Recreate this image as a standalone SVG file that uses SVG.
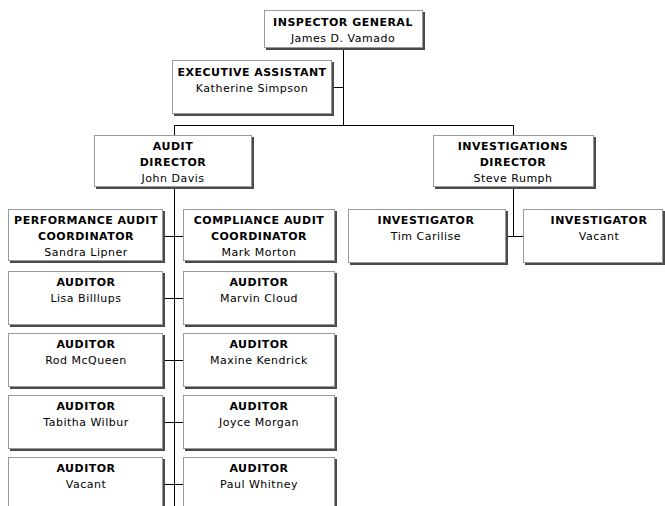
<svg xmlns="http://www.w3.org/2000/svg" width="665" height="506" viewBox="0 0 665 506">
<style>
.sh{fill:#4a4a4a}
.bx{fill:#fff;stroke:#9a9a9a;stroke-width:1}
.t{font-family:"DejaVu Sans",Verdana,sans-serif;font-size:11px;font-weight:bold;fill:#000;text-anchor:middle;letter-spacing:0.5px}
.n{font-family:"DejaVu Sans",Verdana,sans-serif;font-size:11px;fill:#000;text-anchor:middle;letter-spacing:0.5px}
.c{stroke:#000;stroke-width:1;fill:none}
</style>
<rect width="665" height="506" fill="#fff"/>
<g id="connectors">
<path class="c" d="M343.5 48V125.5M333 87.5H343.5M174.5 125.5H513.5M174.5 125.5V135M513.5 125.5V135"/>
<path class="c" d="M174.5 187V506M163 236.5H183M163 298.5H183M163 360.5H183M163 422.5H183M163 484.5H183"/>
<path class="c" d="M513.5 187V236.5M506 236.5H523"/>
</g>
<g id="ig"><rect class="sh" x="266" y="12" width="159" height="38"/><rect class="bx" x="264.5" y="10.5" width="158" height="37"/><text class="t" x="343" y="26">INSPECTOR GENERAL</text><text class="n" x="343" y="42">James D. Vamado</text></g>
<g id="ea"><rect class="sh" x="174" y="62" width="160" height="54"/><rect class="bx" x="172.5" y="60.5" width="159" height="53"/><text class="t" x="252" y="76">EXECUTIVE ASSISTANT</text><text class="n" x="252" y="92">Katherine Simpson</text></g>
<g id="ad"><rect class="sh" x="96" y="137" width="158" height="52"/><rect class="bx" x="94.5" y="135.5" width="157" height="51"/><text class="t" x="173" y="150">AUDIT</text><text class="t" x="173" y="166">DIRECTOR</text><text class="n" x="173" y="182">John Davis</text></g>
<g id="id"><rect class="sh" x="435" y="137" width="161" height="52"/><rect class="bx" x="433.5" y="135.5" width="160" height="51"/><text class="t" x="513" y="150">INVESTIGATIONS</text><text class="t" x="513" y="166">DIRECTOR</text><text class="n" x="513" y="182">Steve Rumph</text></g>
<g id="pa"><rect class="sh" x="10" y="211" width="155" height="52"/><rect class="bx" x="8.5" y="209.5" width="154" height="51"/><text class="t" x="86" y="224">PERFORMANCE AUDIT</text><text class="t" x="86" y="240">COORDINATOR</text><text class="n" x="86" y="256">Sandra Lipner</text></g>
<g id="ca"><rect class="sh" x="185" y="211" width="152" height="52"/><rect class="bx" x="183.5" y="209.5" width="151" height="51"/><text class="t" x="259" y="224">COMPLIANCE AUDIT</text><text class="t" x="259" y="240">COORDINATOR</text><text class="n" x="259" y="256">Mark Morton</text></g>
<g id="inv1"><rect class="sh" x="350" y="211" width="158" height="54"/><rect class="bx" x="348.5" y="209.5" width="157" height="53"/><text class="t" x="426" y="224">INVESTIGATOR</text><text class="n" x="426" y="240">Tim Carilise</text></g>
<g id="inv2"><rect class="sh" x="525" y="211" width="140" height="54"/><rect class="bx" x="523.5" y="209.5" width="139" height="53"/><text class="t" x="599" y="224">INVESTIGATOR</text><text class="n" x="599" y="240">Vacant</text></g>
<g id="a1"><rect class="sh" x="10" y="273" width="155" height="54"/><rect class="bx" x="8.5" y="271.5" width="154" height="53"/><text class="t" x="86" y="286">AUDITOR</text><text class="n" x="86" y="302">Lisa Billlups</text></g>
<g id="a2"><rect class="sh" x="185" y="273" width="152" height="54"/><rect class="bx" x="183.5" y="271.5" width="151" height="53"/><text class="t" x="259" y="286">AUDITOR</text><text class="n" x="259" y="302">Marvin Cloud</text></g>
<g id="a3"><rect class="sh" x="10" y="335" width="155" height="54"/><rect class="bx" x="8.5" y="333.5" width="154" height="53"/><text class="t" x="86" y="348">AUDITOR</text><text class="n" x="86" y="364">Rod McQueen</text></g>
<g id="a4"><rect class="sh" x="185" y="335" width="152" height="54"/><rect class="bx" x="183.5" y="333.5" width="151" height="53"/><text class="t" x="259" y="348">AUDITOR</text><text class="n" x="259" y="364">Maxine Kendrick</text></g>
<g id="a5"><rect class="sh" x="10" y="397" width="155" height="54"/><rect class="bx" x="8.5" y="395.5" width="154" height="53"/><text class="t" x="86" y="410">AUDITOR</text><text class="n" x="86" y="426">Tabitha Wilbur</text></g>
<g id="a6"><rect class="sh" x="185" y="397" width="152" height="54"/><rect class="bx" x="183.5" y="395.5" width="151" height="53"/><text class="t" x="259" y="410">AUDITOR</text><text class="n" x="259" y="426">Joyce Morgan</text></g>
<g id="a7"><rect class="sh" x="10" y="459" width="155" height="54"/><rect class="bx" x="8.5" y="457.5" width="154" height="53"/><text class="t" x="86" y="472">AUDITOR</text><text class="n" x="86" y="488">Vacant</text></g>
<g id="a8"><rect class="sh" x="185" y="459" width="152" height="54"/><rect class="bx" x="183.5" y="457.5" width="151" height="53"/><text class="t" x="259" y="472">AUDITOR</text><text class="n" x="259" y="488">Paul Whitney</text></g>
</svg>
